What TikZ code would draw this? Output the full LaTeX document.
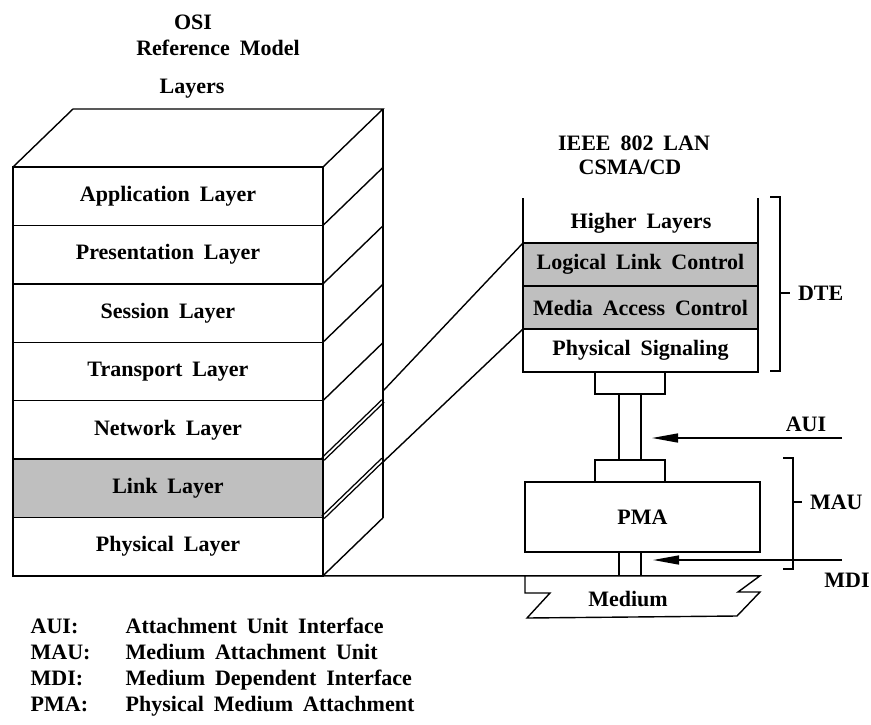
\documentclass[tikz,border=0pt]{standalone}
\usepackage{fontspec}
\setmainfont{Liberation Serif}
\usetikzlibrary{positioning,arrows.meta}
\newcommand\lblfont{\fontsize{22}{22}\selectfont\bfseries\spaceskip=0.45em\relax}
\colorlet{shadecolor}{black!25}

\begin{document}
\begin{tikzpicture}
  [x=1pt,y=-1pt,line width=1.4pt,
   % Styles
   every node/.style={font=\lblfont},
   osi layer/.style={draw,minimum width=310pt,minimum height=58.4pt,inner sep=0pt,outer sep=0pt},
   lan layer/.style={draw,minimum width=235pt,minimum height=43pt,inner sep=0pt,outer sep=0pt},
   shaded/.style={fill=shadecolor},
   plug/.style={draw,minimum width=70pt,minimum height=22pt,inner sep=0pt,outer sep=0pt},
   pointer/.style={-{Triangle[length=26pt,width=9pt]}},
   legend/.style={anchor=base west,inner sep=0pt}]

  \useasboundingbox (0,0) rectangle (871,724);

  % Titles
  \node (osi) at (193,22) {OSI};
  \node (ref) at (218,48) {Reference Model};
  \node (lay) at (192,89) {Layers};
  \node (ieee) at (634,143) {IEEE 802 LAN};
  \node (csma) at (630,167) {CSMA/CD};

  % OSI stack
  \node[osi layer,anchor=north west] (app) at (13,167) {Application Layer};
  \node[osi layer,below=0pt of app] (pre) {Presentation Layer};
  \node[osi layer,below=0pt of pre] (ses) {Session Layer};
  \node[osi layer,below=0pt of ses] (tra) {Transport Layer};
  \node[osi layer,below=0pt of tra] (net) {Network Layer};
  \node[osi layer,shaded,below=0pt of net] (lnk) {Link Layer};
  \node[osi layer,below=0pt of lnk] (phy) {Physical Layer};

  \draw (app.north west) -- ++(60,-58) -- ++(310,0) coordinate (tr) -- (app.north east);
  \foreach \n in {pre,ses,tra,net}
    \draw (\n.north east) -- ++(60,-58);
  \draw[double,double distance=1.8pt] (lnk.north east) -- ++(60,-58);
  \draw[double,double distance=1.8pt] (phy.north east) -- ++(60,-58);
  \draw (phy.south east) -- ++(60,-58) coordinate (br);
  \draw (tr) -- (br);
  \draw (app.north east) -- (phy.south east);

  % IEEE 802 stack
  \node[lan layer,shaded,anchor=north west] (llc) at (523,243) {Logical Link Control};
  \node[lan layer,shaded,below=0pt of llc] (mac) {Media Access Control};
  \node[lan layer,below=0pt of mac] (ps) {Physical Signaling};
  \draw (llc.north west) -- ++(0,-45);
  \draw (llc.north east) -- ++(0,-45);
  \node (hl) at (641,223) {Higher Layers};

  % Link layer mapping
  \coordinate (c1) at (383,391);
  \coordinate (c2) at (383,462);
  \draw (c1) -- (llc.north west);
  \draw (c2) -- (ps.north west);

  % Attachment and medium
  \coordinate (mid) at (630,0);
  \coordinate (cl) at (619,0);
  \coordinate (cr) at (641,0);
  \node[plug,anchor=north] (upper plug) at (ps.south -| mid) {};
  \node[plug,anchor=north] (lower plug) at (630,460) {};
  \node[draw,minimum width=235pt,minimum height=70pt,inner sep=0pt,outer sep=0pt,anchor=north west]
    (pma) at (525,482) {PMA};
  \draw (upper plug.south -| cl) -- (lower plug.north -| cl);
  \draw (upper plug.south -| cr) -- (lower plug.north -| cr);
  \draw (pma.south -| cl) -- (phy.south -| cl);
  \draw (pma.south -| cr) -- (phy.south -| cr);

  \draw (phy.south east) -- (760,575.8) -- (738,592) -- (760,592) -- (737,616)
    -- (527,618) -- (550,593) -- (525,593) -- (525,575.8);
  \node (medium) at (628,599) {Medium};

  % Brackets and pointers
  \draw (770,197) -| (780,371) -- (770,371);
  \draw (780,293) -- (790,293) node[right=4pt] (dte) {DTE};

  \coordinate (aui end) at (842,438);
  \coordinate (aui tip) at (652,438);
  \draw[pointer] (aui end) -- (aui tip);
  \node (aui) at (806,424) {AUI};

  \draw (783,458) -| (793,569) -- (783,569);
  \draw (793,502) -- (802,502) node[right=4pt] (mau) {MAU};

  \coordinate (mdi end) at (842,560);
  \coordinate (mdi tip) at (653,560);
  \draw[pointer] (mdi end) -- (mdi tip);
  \node (mdi) at (847,580) {MDI};

  % Legend
  \foreach \ab/\txt [count=\i] in {AUI:/Attachment Unit Interface,
      MAU:/Medium Attachment Unit, MDI:/Medium Dependent Interface,
      PMA:/Physical Medium Attachment}
  {
    \node[legend] (abbr\i) at (30,607+26*\i) {\ab};
    \node[legend] (desc\i) at (125,607+26*\i) {\txt};
  }
\end{tikzpicture}
\end{document}
